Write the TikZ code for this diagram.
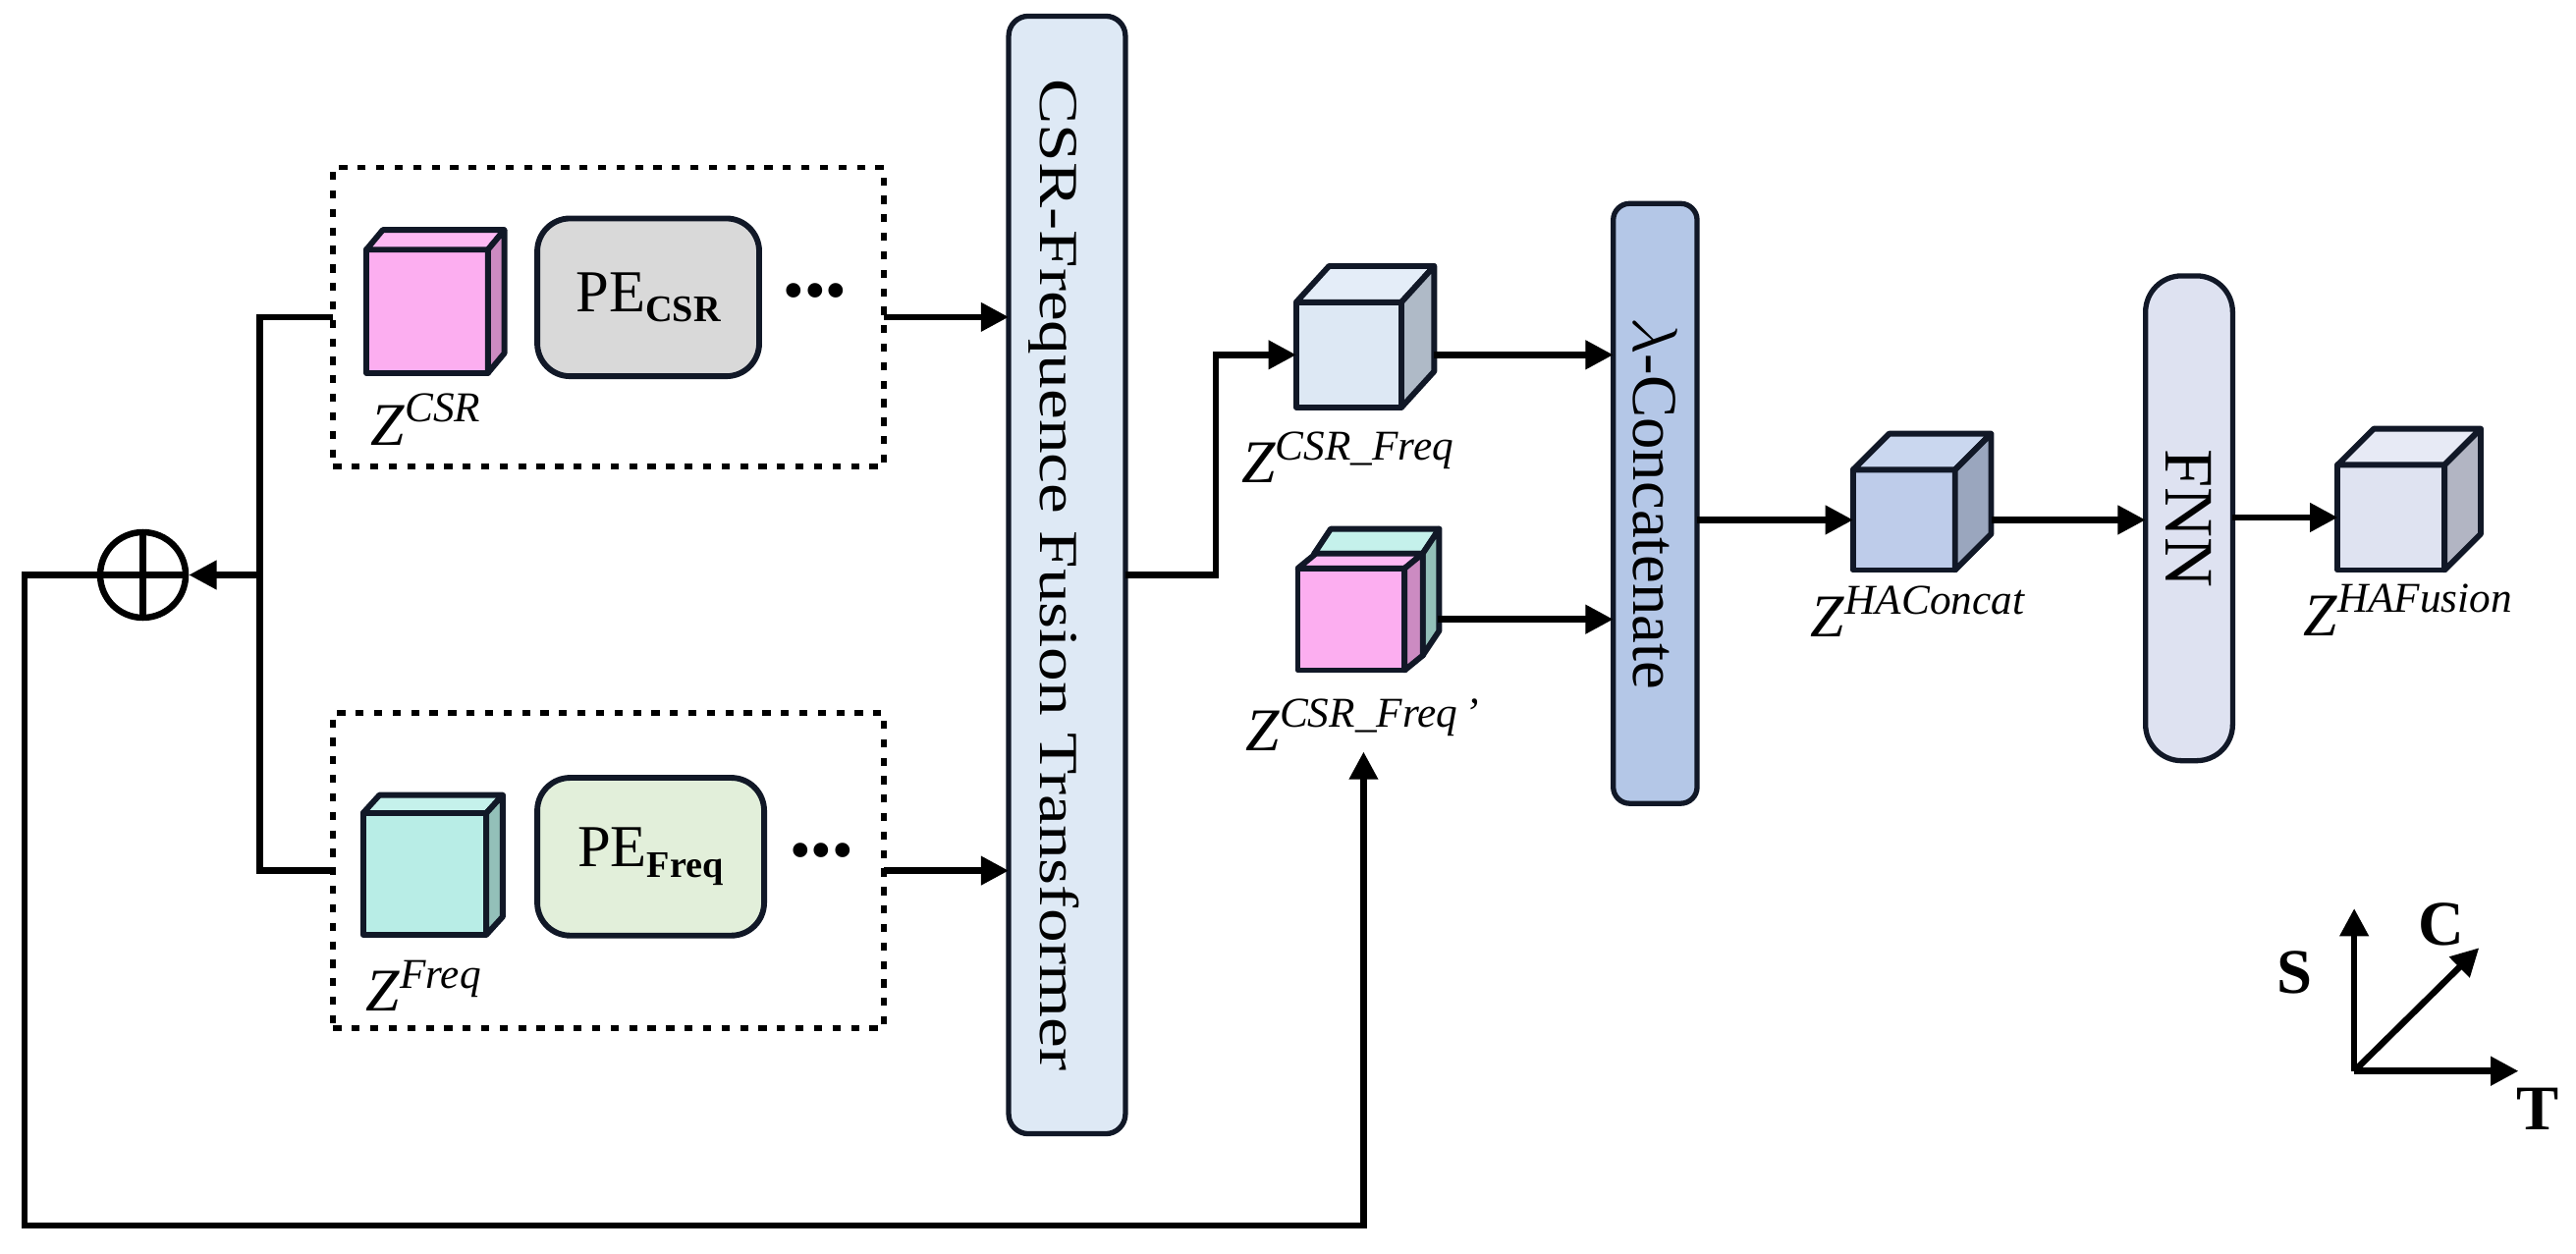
\documentclass[tikz,border=0pt]{standalone}
\usepackage{fontspec}
\setmainfont{Liberation Serif}
\usepackage{tikz}
\usetikzlibrary{positioning}
\usetikzlibrary{calc,arrows.meta}
\definecolor{edgenavy}{HTML}{111827}
\definecolor{pinkf}{HTML}{FCAEF0}
\definecolor{pinkt}{HTML}{FDB9F4}
\definecolor{pinks}{HTML}{CC8BC2}
\definecolor{cyanf}{HTML}{B8EDE6}
\definecolor{cyant}{HTML}{C5F1EB}
\definecolor{cyans}{HTML}{93C0B9}
\definecolor{pegray}{HTML}{D9D9D9}
\definecolor{pegreen}{HTML}{E2EFDA}
\definecolor{transblue}{HTML}{DEE9F5}
\definecolor{cfront}{HTML}{DDE8F4}
\definecolor{ctop}{HTML}{E4EDF8}
\definecolor{cside}{HTML}{AFBAC7}
\definecolor{concatblue}{HTML}{B4C7E7}
\definecolor{hacf}{HTML}{BECCEA}
\definecolor{hact}{HTML}{CAD7EF}
\definecolor{hacs}{HTML}{9AA6BE}
\definecolor{fnnblue}{HTML}{DEE2F1}
\definecolor{haff}{HTML}{DFE3F1}
\definecolor{haft}{HTML}{E7EAF5}
\definecolor{hafs}{HTML}{B2B5C3}
\newcommand{\zlab}[1]{\textit{Z}\textsuperscript{\itshape #1}}
\newcommand{\pesub}[1]{\raisebox{-1.8pt}{\fontsize{6.5}{7}\selectfont\bfseries #1}}
\newcommand{\cubefaces}[5]{%
  \draw[cubeline, fill=#4] (#1.north west) -- ++(#2,#3) -- ([shift={(#2,#3)}]#1.north east) -- (#1.north east) -- cycle;
  \draw[cubeline, fill=#5] (#1.north east) -- ([shift={(#2,#3)}]#1.north east) -- ([shift={(#2,#3)}]#1.south east) -- (#1.south east) -- cycle;
}

\begin{document}
\begin{tikzpicture}[x=0.01cm, y=-0.01cm,
    conn/.style={line width=1.1pt},
    arr/.style={conn, -{Triangle[length=4.8pt,width=4.8pt]}},
    cubefront/.style={draw=edgenavy, line width=1pt, line join=round, inner sep=0pt, outer sep=0pt},
    cubeline/.style={draw=edgenavy, line width=1pt, line join=round},
    dashbox/.style={draw, line width=1pt, dash pattern=on 1.4pt off 1.8pt, inner sep=0pt, outer sep=0pt},
    pebox/.style={draw=edgenavy, line width=1pt, rounded corners=2mm, inner sep=0pt, outer sep=0pt, minimum height=0.96cm, font=\fontsize{10.3}{12}\selectfont},
    tallbox/.style={draw=edgenavy, line width=0.9pt, inner sep=0pt, outer sep=0pt},
    lbl/.style={inner sep=0pt, font=\fontsize{10.5}{12}\selectfont},
    dotsnode/.style={inner sep=0pt, font=\fontsize{10.5}{12}\selectfont},
    axlbl/.style={inner sep=0pt, font=\fontsize{11}{12}\selectfont\bfseries}]
  \useasboundingbox (0,0) rectangle (1568,763);

  \node(boxcsr) [dashbox, minimum width=3.35cm, minimum height=1.82cm] at (370.5,193) {};
  \node(boxfreq) [dashbox, minimum width=3.35cm, minimum height=1.92cm] at (370.5,530) {};

  \node(zcsr) [cubefront, fill=pinkf, minimum width=0.74cm, minimum height=0.75cm] at (260,189.5) {};
  \cubefaces{zcsr}{10}{-12}{pinkt}{pinks}
  \node(lcsr) [lbl, below=1.2mm of zcsr] {\zlab{CSR}};
  \node(pecsr) [pebox, fill=pegray, minimum width=1.35cm, right=3mm of zcsr, yshift=0.85mm] {PE\pesub{CSR}};
  \node(dcsr) [dotsnode, right=1.4mm of pecsr] {\textbullet\textbullet\textbullet};

  \node(zfreq) [cubefront, fill=cyanf, minimum width=0.75cm, minimum height=0.74cm] at (258.5,532) {};
  \cubefaces{zfreq}{10}{-11}{cyant}{cyans}
  \node(lfreq) [lbl, below=1.5mm of zfreq] {\zlab{Freq}};
  \node(pefreq) [pebox, fill=pegreen, minimum width=1.38cm, right=3.1mm of zfreq, yshift=1.05mm] {PE\pesub{Freq}};
  \node(dfreq) [dotsnode, right=1.5mm of pefreq] {\textbullet\textbullet\textbullet};

  \node(plus) [draw, circle, line width=1.1pt, minimum size=0.52cm, inner sep=0pt] at (87,350) {};
  \draw[conn] (plus.north) -- (plus.south) (plus.west) -- (plus.east);

  \node(trans) [tallbox, fill=transblue, rounded corners=1.2mm, minimum width=0.71cm, minimum height=6.8cm] at (649.5,350) {};
  \node(ttrans) [rotate=-90, font=\fontsize{9.5}{11}\selectfont] at ([xshift=-0.8mm]trans.center) {\scalebox{1.24}[1]{CSR-Frequence Fusion Transformer}};

  \node(zcf) [cubefront, fill=cfront, minimum width=0.64cm, minimum height=0.64cm] at (821,216) {};
  \cubefaces{zcf}{20}{-22}{ctop}{cside}
  \node(lcf) [lbl, below=1.4mm of zcf] {\zlab{CSR\_Freq}};

  \node(zfpback) [cubefront, fill=cyanf, minimum width=0.66cm, minimum height=0.62cm] at (833,368) {};
  \cubefaces{zfpback}{10}{-15}{cyant}{cyans}
  \node(zfp) [cubefront, fill=pinkf, minimum width=0.65cm, minimum height=0.62cm] at (822.5,377) {};
  \cubefaces{zfp}{11}{-9}{pinkt}{pinks}
  \node(lfp) [lbl, below=1.7mm of zfp, xshift=0.75mm] {\zlab{CSR\_Freq\,'}};

  \node(concat) [tallbox, fill=concatblue, rounded corners=1mm, minimum width=0.51cm, minimum height=3.65cm] at (1007.5,306.5) {};
  \node(tconcat) [rotate=-90, font=\fontsize{11}{12}\selectfont] at (concat.center) {$\lambda$-Concatenate};

  \node(hac) [cubefront, fill=hacf, minimum width=0.62cm, minimum height=0.61cm] at (1159,316.5) {};
  \cubefaces{hac}{22}{-22}{hact}{hacs}
  \node(lhac) [lbl, below=0.9mm of hac, xshift=0.9mm] {\zlab{HAConcat}};

  \node(fnn) [tallbox, fill=fnnblue, rounded corners=2.2mm, minimum width=0.53cm, minimum height=2.95cm] at (1332.5,315.5) {};
  \node(tfnn) [rotate=-90, font=\fontsize{12}{13}\selectfont] at (fnn.center) {FNN};

  \node(haf) [cubefront, fill=haff, minimum width=0.65cm, minimum height=0.64cm] at (1455.5,315) {};
  \cubefaces{haf}{22}{-22}{haft}{hafs}
  \node(lhaf) [lbl, below=0.8mm of haf, xshift=1.1mm] {\zlab{HAFusion}};

  \coordinate(jn) at (158,350);
  \coordinate(fb) at (15,746);
  \draw[conn](boxcsr.west) -| (jn);
  \draw[conn](boxfreq.west) -| (jn);
  \draw[arr](jn) -- (plus.east);
  \draw[arr](plus.west) -| (fb) -| (lfp.south);
  \draw[arr](boxcsr.east) -- (boxcsr.east -| trans.west);
  \draw[arr](boxfreq.east) -- (boxfreq.east -| trans.west);
  \draw[arr](trans.east) -- ++(55,0) |- (zcf.west);
  \draw[arr]([xshift=2mm]zcf.east) -- (zcf.east -| concat.west);
  \draw[arr]([xshift=2mm]zfp.east) -- (zfp.east -| concat.west);
  \draw[arr](concat.east |- hac.west) -- (hac.west);
  \draw[arr]([xshift=2.2mm]hac.east) -- (fnn.west |- hac.east);
  \draw[arr](fnn.east |- haf.west) -- (haf.west);

  \coordinate(axo) at (1433,652);
  \coordinate(axs) at (1433,553);
  \coordinate(axt) at (1533,652);
  \coordinate(axc) at (1509,577);
  \node(ls) [axlbl] at (1397,592) {S};
  \node(lc) [axlbl] at (1486,563) {C};
  \node(lt) [axlbl] at (1545,675) {T};
  \draw[arr](axo) -- (axs);
  \draw[arr](axo) -- (axt);
  \draw[arr](axo) -- (axc);
\end{tikzpicture}
\end{document}
